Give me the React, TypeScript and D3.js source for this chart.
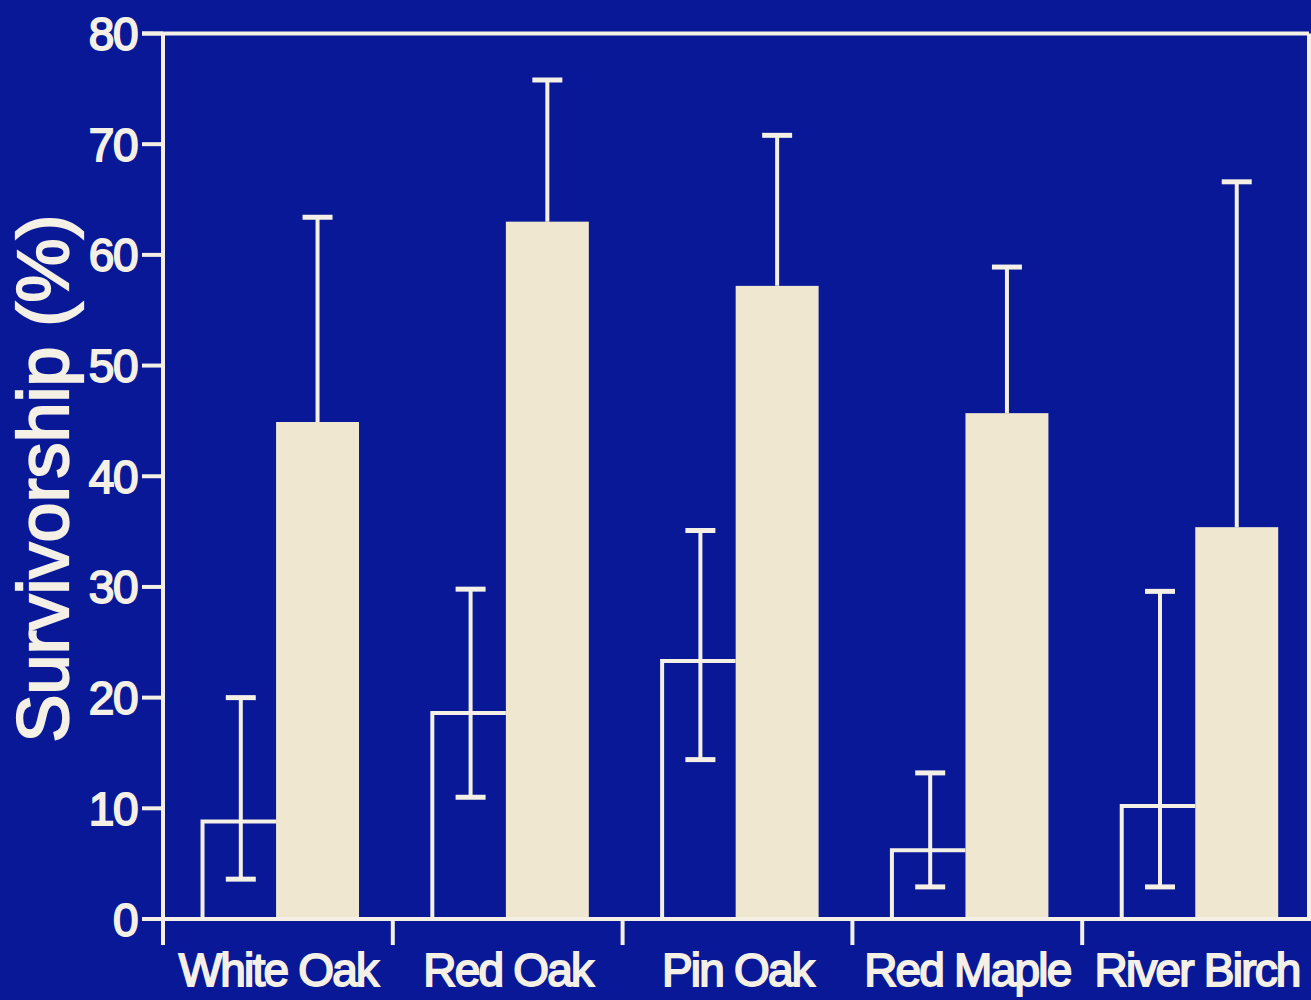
import React from "react";
import * as d3 from "d3";

const categories = ["White Oak", "Red Oak", "Pin Oak", "Red Maple", "River Birch"];
const openMeans = [8.8, 18.6, 23.3, 6.2, 10.2];
const openLower = [3.6, 11.0, 14.4, 2.9, 2.9];
const openUpper = [20.0, 29.8, 35.1, 13.2, 29.6];
const filledMeans = [44.9, 63.0, 57.2, 45.7, 35.4];
const filledUpper = [63.4, 75.8, 70.8, 58.9, 66.6];
const yTicks = [0, 10, 20, 30, 40, 50, 60, 70, 80];

const W = 1311;
const H = 1000;
const BG = "#081896";
const LINE = "#f4f0e6";
const CREAM = "#efe7cf";
const FONT = "'Liberation Sans', Arial, Helvetica, sans-serif";

export default function App() {
  const left = 163;
  const right = 1309;
  const top = 33.5;
  const base = 919;
  const y = d3.scaleLinear().domain([0, 80]).range([base, top]);
  const x = d3.scaleBand().domain(categories).range([left, left + 5 * 229.8]).padding(0);
  const bw = x.bandwidth();
  const inner = d3.scaleLinear().domain([0, 1]).range([0, bw]);
  const openL = inner(0.172);
  const split = inner(0.492);
  const filledR = inner(0.853);
  const capHalf = 15;
  const sw = 4;

  return (
    <svg
      width={W}
      height={H}
      style={{ position: "absolute", left: 0, top: 0, display: "block", background: BG }}
    >
      <rect x={0} y={0} width={W} height={H} fill={BG} />

      {categories.map((c, i) => {
        const x0 = x(c) as number;
        const ox1 = x0 + openL;
        const ox2 = x0 + split;
        const fx2 = x0 + filledR;
        const oc = (ox1 + ox2) / 2 + 1.5;
        const fc = (ox2 + fx2) / 2;
        return (
          <g key={c}>
            <rect x={ox2} y={y(filledMeans[i])} width={fx2 - ox2} height={base - y(filledMeans[i])} fill={CREAM} />
            <line x1={fc} x2={fc} y1={y(filledMeans[i])} y2={y(filledUpper[i])} stroke={LINE} strokeWidth={sw} />
            <line x1={fc - capHalf} x2={fc + capHalf} y1={y(filledUpper[i])} y2={y(filledUpper[i])} stroke={LINE} strokeWidth={sw + 1} />
            <path
              d={`M${ox1},${base} L${ox1},${y(openMeans[i])} L${ox2},${y(openMeans[i])}`}
              fill="none"
              stroke={LINE}
              strokeWidth={sw}
            />
            <line x1={oc} x2={oc} y1={y(openLower[i])} y2={y(openUpper[i])} stroke={LINE} strokeWidth={sw} />
            <line x1={oc - capHalf} x2={oc + capHalf} y1={y(openUpper[i])} y2={y(openUpper[i])} stroke={LINE} strokeWidth={sw + 1} />
            <line x1={oc - capHalf} x2={oc + capHalf} y1={y(openLower[i])} y2={y(openLower[i])} stroke={LINE} strokeWidth={sw + 1} />
          </g>
        );
      })}

      <line x1={142} x2={right} y1={top} y2={top} stroke={LINE} strokeWidth={sw} />
      <line x1={left} x2={left} y1={top} y2={945} stroke={LINE} strokeWidth={sw} />
      <line x1={right} x2={right} y1={top} y2={base} stroke={LINE} strokeWidth={sw} />
      <line x1={142} x2={W} y1={base} y2={base} stroke={LINE} strokeWidth={sw} />

      {yTicks.map((t) => (
        <g key={t}>
          <line x1={142} x2={left} y1={y(t)} y2={y(t)} stroke={LINE} strokeWidth={sw} />
          <text
            x={137}
            y={y(t)}
            dy="0.36em"
            textAnchor="end"
            fill={LINE}
            stroke={LINE}
            strokeWidth={1.8}
            fontFamily={FONT}
            fontSize={46}
            letterSpacing={-1.5}
          >
            {t}
          </text>
        </g>
      ))}

      {categories.map((c, i) => {
        const x0 = x(c) as number;
        return (
          <g key={c}>
            {i > 0 && <line x1={x0} x2={x0} y1={base} y2={945} stroke={LINE} strokeWidth={sw} />}
            <text
              x={x0 + bw / 2}
              y={986}
              textAnchor="middle"
              fill={LINE}
              stroke={LINE}
              strokeWidth={1.8}
              fontFamily={FONT}
              fontSize={46}
              letterSpacing={-1.8}
            >
              {c}
            </text>
          </g>
        );
      })}

      <text
        transform={`translate(68, ${(212 + 745) / 2}) rotate(-90)`}
        textAnchor="middle"
        fill={LINE}
        stroke={LINE}
        strokeWidth={2.2}
        fontFamily={FONT}
        fontSize={72}
      >
        Survivorship (%)
      </text>
    </svg>
  );
}
